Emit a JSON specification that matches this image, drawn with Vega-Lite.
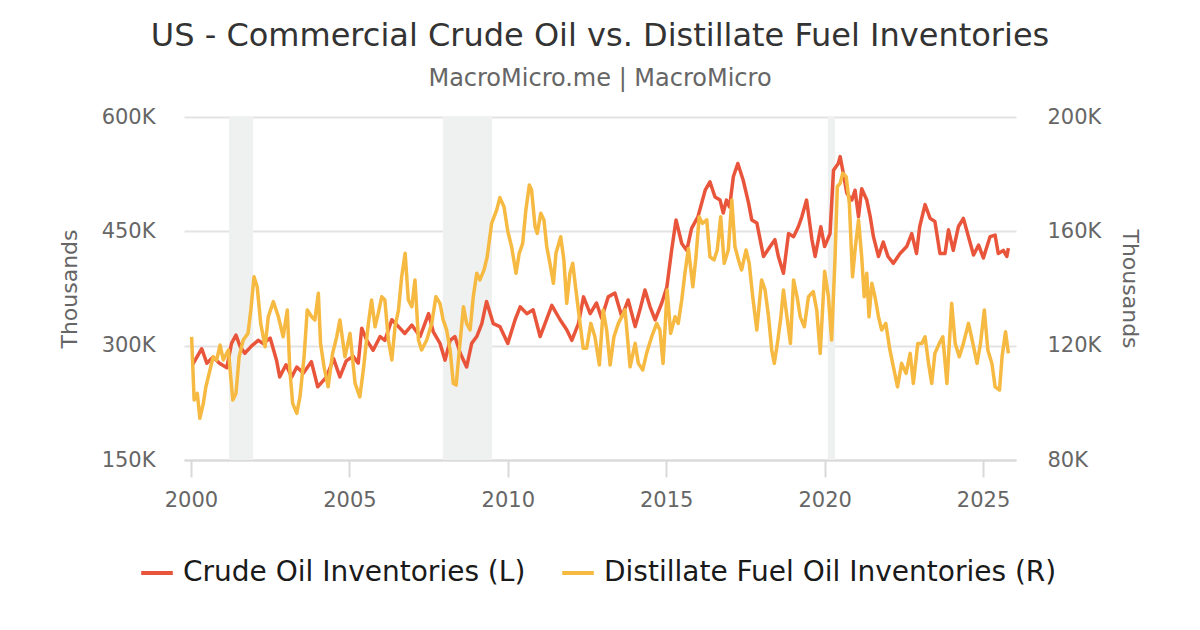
{
  "$schema": "https://vega.github.io/schema/vega-lite/v6.json",
  "width": 832,
  "height": 343,
  "autosize": {"type": "none"},
  "padding": {"left": 184, "top": 117, "right": 184, "bottom": 170},
  "background": "white",
  "config": {"font": "DejaVu Sans", "view": {"stroke": null}},
  "title": {
    "text": "US - Commercial Crude Oil vs. Distillate Fuel Inventories",
    "subtitle": "MacroMicro.me | MacroMicro",
    "anchor": "middle",
    "font": "DejaVu Sans",
    "fontSize": 32,
    "fontWeight": "normal",
    "color": "#333333",
    "subtitleFont": "DejaVu Sans",
    "subtitleFontSize": 24,
    "subtitleColor": "#666666",
    "subtitlePadding": 14,
    "offset": 14
  },
  "datasets": {
    "recessions": [
      {"start": 2001.2, "end": 2001.96},
      {"start": 2007.95, "end": 2009.5},
      {"start": 2020.1, "end": 2020.33}
    ],
    "crude": [
      {"year": 2000.05, "value": 275}, {"year": 2000.34, "value": 296}, {"year": 2000.5, "value": 277}, {"year": 2000.7, "value": 285}, {"year": 2000.9, "value": 277},
      {"year": 2001.13, "value": 271}, {"year": 2001.28, "value": 303}, {"year": 2001.42, "value": 314}, {"year": 2001.55, "value": 299}, {"year": 2001.7, "value": 290}, {"year": 2001.9, "value": 299},
      {"year": 2002.12, "value": 307}, {"year": 2002.28, "value": 303}, {"year": 2002.5, "value": 310}, {"year": 2002.7, "value": 281}, {"year": 2002.8, "value": 259},
      {"year": 2003.0, "value": 275}, {"year": 2003.18, "value": 259}, {"year": 2003.34, "value": 272}, {"year": 2003.55, "value": 264}, {"year": 2003.8, "value": 279},
      {"year": 2004.0, "value": 246}, {"year": 2004.28, "value": 259}, {"year": 2004.5, "value": 283}, {"year": 2004.7, "value": 259}, {"year": 2004.9, "value": 280},
      {"year": 2005.12, "value": 286}, {"year": 2005.28, "value": 277}, {"year": 2005.39, "value": 323}, {"year": 2005.55, "value": 307}, {"year": 2005.75, "value": 294}, {"year": 2005.97, "value": 312},
      {"year": 2006.12, "value": 307}, {"year": 2006.34, "value": 334}, {"year": 2006.55, "value": 325}, {"year": 2006.75, "value": 316}, {"year": 2006.97, "value": 327},
      {"year": 2007.23, "value": 312}, {"year": 2007.5, "value": 342}, {"year": 2007.65, "value": 318}, {"year": 2007.86, "value": 303},
      {"year": 2008.02, "value": 281}, {"year": 2008.18, "value": 307}, {"year": 2008.33, "value": 312}, {"year": 2008.5, "value": 290}, {"year": 2008.7, "value": 272}, {"year": 2008.86, "value": 303},
      {"year": 2009.02, "value": 312}, {"year": 2009.18, "value": 329}, {"year": 2009.33, "value": 358}, {"year": 2009.54, "value": 329}, {"year": 2009.75, "value": 325},
      {"year": 2010.0, "value": 303}, {"year": 2010.23, "value": 334}, {"year": 2010.39, "value": 351}, {"year": 2010.6, "value": 342}, {"year": 2010.8, "value": 347},
      {"year": 2011.02, "value": 312}, {"year": 2011.39, "value": 353}, {"year": 2011.65, "value": 334}, {"year": 2011.86, "value": 321},
      {"year": 2012.02, "value": 307}, {"year": 2012.23, "value": 329}, {"year": 2012.39, "value": 364}, {"year": 2012.6, "value": 342}, {"year": 2012.8, "value": 356}, {"year": 2012.96, "value": 336},
      {"year": 2013.17, "value": 364}, {"year": 2013.38, "value": 369}, {"year": 2013.6, "value": 338}, {"year": 2013.8, "value": 360},
      {"year": 2014.02, "value": 325}, {"year": 2014.17, "value": 347}, {"year": 2014.33, "value": 373}, {"year": 2014.49, "value": 351}, {"year": 2014.65, "value": 334}, {"year": 2014.86, "value": 356},
      {"year": 2015.02, "value": 377}, {"year": 2015.17, "value": 425}, {"year": 2015.31, "value": 465}, {"year": 2015.49, "value": 434}, {"year": 2015.65, "value": 425}, {"year": 2015.8, "value": 454},
      {"year": 2016.0, "value": 469}, {"year": 2016.23, "value": 504}, {"year": 2016.38, "value": 515}, {"year": 2016.54, "value": 495}, {"year": 2016.7, "value": 491}, {"year": 2016.8, "value": 474}, {"year": 2016.9, "value": 491},
      {"year": 2017.0, "value": 482}, {"year": 2017.12, "value": 522}, {"year": 2017.26, "value": 539}, {"year": 2017.43, "value": 517}, {"year": 2017.6, "value": 487}, {"year": 2017.7, "value": 465}, {"year": 2017.86, "value": 461},
      {"year": 2018.07, "value": 417}, {"year": 2018.28, "value": 430}, {"year": 2018.43, "value": 439}, {"year": 2018.54, "value": 417}, {"year": 2018.7, "value": 395}, {"year": 2018.86, "value": 447},
      {"year": 2019.02, "value": 443}, {"year": 2019.17, "value": 456}, {"year": 2019.28, "value": 469}, {"year": 2019.43, "value": 491}, {"year": 2019.6, "value": 439}, {"year": 2019.7, "value": 417}, {"year": 2019.88, "value": 456},
      {"year": 2020.0, "value": 430}, {"year": 2020.17, "value": 447}, {"year": 2020.28, "value": 530}, {"year": 2020.43, "value": 539}, {"year": 2020.49, "value": 548}, {"year": 2020.59, "value": 526}, {"year": 2020.7, "value": 500}, {"year": 2020.86, "value": 491}, {"year": 2020.96, "value": 504},
      {"year": 2021.07, "value": 469}, {"year": 2021.17, "value": 506}, {"year": 2021.33, "value": 491}, {"year": 2021.44, "value": 469}, {"year": 2021.54, "value": 443}, {"year": 2021.7, "value": 417}, {"year": 2021.85, "value": 436},
      {"year": 2022.0, "value": 417}, {"year": 2022.17, "value": 408}, {"year": 2022.38, "value": 421}, {"year": 2022.59, "value": 430}, {"year": 2022.75, "value": 447}, {"year": 2022.9, "value": 421},
      {"year": 2023.0, "value": 456}, {"year": 2023.17, "value": 485}, {"year": 2023.33, "value": 467}, {"year": 2023.48, "value": 463}, {"year": 2023.64, "value": 421}, {"year": 2023.8, "value": 421}, {"year": 2023.91, "value": 452},
      {"year": 2024.06, "value": 425}, {"year": 2024.22, "value": 456}, {"year": 2024.38, "value": 467}, {"year": 2024.54, "value": 443}, {"year": 2024.7, "value": 419}, {"year": 2024.86, "value": 432},
      {"year": 2025.01, "value": 415}, {"year": 2025.22, "value": 443}, {"year": 2025.38, "value": 445}, {"year": 2025.48, "value": 421}, {"year": 2025.64, "value": 425}, {"year": 2025.75, "value": 417}, {"year": 2025.8, "value": 428}
    ],
    "distillate": [
      {"year": 2000.02, "value": 123.1}, {"year": 2000.1, "value": 101}, {"year": 2000.2, "value": 103.3}, {"year": 2000.28, "value": 94.6}, {"year": 2000.39, "value": 99.8}, {"year": 2000.47, "value": 105.6}, {"year": 2000.6, "value": 111.5}, {"year": 2000.7, "value": 116.1}, {"year": 2000.81, "value": 115}, {"year": 2000.92, "value": 120.2},
      {"year": 2001.02, "value": 115}, {"year": 2001.18, "value": 118.5}, {"year": 2001.32, "value": 101}, {"year": 2001.42, "value": 103.3}, {"year": 2001.52, "value": 116.1}, {"year": 2001.65, "value": 122}, {"year": 2001.8, "value": 124.3}, {"year": 2001.89, "value": 132.5}, {"year": 2001.99, "value": 144.1},
      {"year": 2002.09, "value": 140.6}, {"year": 2002.2, "value": 127.8}, {"year": 2002.34, "value": 119.6}, {"year": 2002.44, "value": 130.1}, {"year": 2002.6, "value": 135.4}, {"year": 2002.76, "value": 130.1}, {"year": 2002.91, "value": 123.1},
      {"year": 2003.04, "value": 132.5}, {"year": 2003.12, "value": 111.5}, {"year": 2003.21, "value": 99.8}, {"year": 2003.34, "value": 96.3}, {"year": 2003.44, "value": 102.1}, {"year": 2003.57, "value": 116.1}, {"year": 2003.67, "value": 132.5}, {"year": 2003.81, "value": 130.1}, {"year": 2003.91, "value": 129},
      {"year": 2004.02, "value": 138.3}, {"year": 2004.09, "value": 120.8}, {"year": 2004.2, "value": 112.6}, {"year": 2004.33, "value": 105.6}, {"year": 2004.47, "value": 117.3}, {"year": 2004.6, "value": 123.1}, {"year": 2004.7, "value": 129}, {"year": 2004.86, "value": 116.1},
      {"year": 2005.02, "value": 124.3}, {"year": 2005.18, "value": 106.8}, {"year": 2005.33, "value": 102.1}, {"year": 2005.44, "value": 111.5}, {"year": 2005.6, "value": 127.8}, {"year": 2005.7, "value": 136}, {"year": 2005.81, "value": 126.6}, {"year": 2005.91, "value": 131.3},
      {"year": 2006.02, "value": 137.1}, {"year": 2006.12, "value": 136}, {"year": 2006.23, "value": 122}, {"year": 2006.34, "value": 115}, {"year": 2006.44, "value": 126.6}, {"year": 2006.55, "value": 132.5}, {"year": 2006.65, "value": 144.1}, {"year": 2006.76, "value": 152.3}, {"year": 2006.86, "value": 136}, {"year": 2006.97, "value": 133.6},
      {"year": 2007.07, "value": 143}, {"year": 2007.18, "value": 122}, {"year": 2007.28, "value": 118.5}, {"year": 2007.44, "value": 122}, {"year": 2007.6, "value": 127.8}, {"year": 2007.73, "value": 137.1}, {"year": 2007.86, "value": 134.8}, {"year": 2007.96, "value": 129},
      {"year": 2008.07, "value": 125.5}, {"year": 2008.18, "value": 118.5}, {"year": 2008.28, "value": 106.8}, {"year": 2008.37, "value": 106.2}, {"year": 2008.47, "value": 118.5}, {"year": 2008.6, "value": 133.6}, {"year": 2008.7, "value": 127.8}, {"year": 2008.81, "value": 125.5}, {"year": 2008.91, "value": 137.1},
      {"year": 2009.02, "value": 145.3}, {"year": 2009.12, "value": 143}, {"year": 2009.25, "value": 146.5}, {"year": 2009.35, "value": 151.1}, {"year": 2009.49, "value": 162.8}, {"year": 2009.65, "value": 167.5}, {"year": 2009.75, "value": 171.8}, {"year": 2009.88, "value": 168.6},
      {"year": 2010.0, "value": 160}, {"year": 2010.12, "value": 154.6}, {"year": 2010.26, "value": 145.3}, {"year": 2010.36, "value": 152.3}, {"year": 2010.47, "value": 155.8}, {"year": 2010.57, "value": 167.5}, {"year": 2010.68, "value": 176.2}, {"year": 2010.75, "value": 174.5}, {"year": 2010.86, "value": 161.6}, {"year": 2010.93, "value": 159.3},
      {"year": 2011.04, "value": 166.3}, {"year": 2011.14, "value": 164}, {"year": 2011.23, "value": 154.6}, {"year": 2011.33, "value": 148.8}, {"year": 2011.44, "value": 141.8}, {"year": 2011.52, "value": 152.3}, {"year": 2011.67, "value": 158.1}, {"year": 2011.77, "value": 150}, {"year": 2011.86, "value": 134.8}, {"year": 2011.96, "value": 145.3},
      {"year": 2012.05, "value": 148.8}, {"year": 2012.15, "value": 139.5}, {"year": 2012.28, "value": 127.8}, {"year": 2012.38, "value": 119.1}, {"year": 2012.49, "value": 119.1}, {"year": 2012.62, "value": 127.8}, {"year": 2012.75, "value": 123.1}, {"year": 2012.89, "value": 113.2},
      {"year": 2013.01, "value": 132.5}, {"year": 2013.12, "value": 125.5}, {"year": 2013.23, "value": 113.2}, {"year": 2013.35, "value": 123.1}, {"year": 2013.49, "value": 127.8}, {"year": 2013.7, "value": 132.5}, {"year": 2013.86, "value": 112.6},
      {"year": 2014.02, "value": 120.8}, {"year": 2014.12, "value": 113.8}, {"year": 2014.26, "value": 111.5}, {"year": 2014.38, "value": 117.3}, {"year": 2014.54, "value": 123.1}, {"year": 2014.7, "value": 127.8}, {"year": 2014.8, "value": 125.5}, {"year": 2014.9, "value": 113.8},
      {"year": 2015.03, "value": 139.5}, {"year": 2015.14, "value": 124.3}, {"year": 2015.28, "value": 130.1}, {"year": 2015.38, "value": 127.8}, {"year": 2015.49, "value": 136}, {"year": 2015.59, "value": 145.3}, {"year": 2015.7, "value": 154}, {"year": 2015.84, "value": 140.6}, {"year": 2015.94, "value": 151.1},
      {"year": 2016.04, "value": 165.1}, {"year": 2016.14, "value": 162.8}, {"year": 2016.28, "value": 164}, {"year": 2016.38, "value": 151.1}, {"year": 2016.51, "value": 150}, {"year": 2016.61, "value": 153.5}, {"year": 2016.72, "value": 165.1}, {"year": 2016.83, "value": 148.8}, {"year": 2016.96, "value": 153.5},
      {"year": 2017.07, "value": 171}, {"year": 2017.17, "value": 154.6}, {"year": 2017.28, "value": 150}, {"year": 2017.38, "value": 146.5}, {"year": 2017.52, "value": 153.5}, {"year": 2017.62, "value": 148.8}, {"year": 2017.73, "value": 137.1}, {"year": 2017.86, "value": 125.5},
      {"year": 2018.01, "value": 143}, {"year": 2018.12, "value": 139.5}, {"year": 2018.23, "value": 130.1}, {"year": 2018.33, "value": 118.5}, {"year": 2018.41, "value": 113.8}, {"year": 2018.51, "value": 120.8}, {"year": 2018.62, "value": 130.1}, {"year": 2018.7, "value": 139.5}, {"year": 2018.81, "value": 130.1}, {"year": 2018.92, "value": 120.8},
      {"year": 2019.02, "value": 143}, {"year": 2019.13, "value": 137.1}, {"year": 2019.23, "value": 130.1}, {"year": 2019.36, "value": 126.6}, {"year": 2019.49, "value": 137.1}, {"year": 2019.64, "value": 138.9}, {"year": 2019.75, "value": 132.5}, {"year": 2019.86, "value": 117.3},
      {"year": 2020.0, "value": 146}, {"year": 2020.12, "value": 137.1}, {"year": 2020.22, "value": 122}, {"year": 2020.33, "value": 151.1}, {"year": 2020.4, "value": 175.6}, {"year": 2020.49, "value": 176.8}, {"year": 2020.57, "value": 180.3}, {"year": 2020.68, "value": 179.1}, {"year": 2020.78, "value": 169.8}, {"year": 2020.88, "value": 144.1}, {"year": 2020.96, "value": 153.5},
      {"year": 2021.07, "value": 164}, {"year": 2021.17, "value": 151.1}, {"year": 2021.25, "value": 137.1}, {"year": 2021.33, "value": 145.3}, {"year": 2021.4, "value": 130.1}, {"year": 2021.49, "value": 141.8}, {"year": 2021.59, "value": 137.1}, {"year": 2021.7, "value": 130.1}, {"year": 2021.8, "value": 125.5}, {"year": 2021.93, "value": 127.8},
      {"year": 2022.06, "value": 118.5}, {"year": 2022.17, "value": 112.6}, {"year": 2022.3, "value": 105.6}, {"year": 2022.43, "value": 113.8}, {"year": 2022.57, "value": 110.3}, {"year": 2022.7, "value": 117.3}, {"year": 2022.8, "value": 106.8}, {"year": 2022.94, "value": 120.8},
      {"year": 2023.07, "value": 120.8}, {"year": 2023.17, "value": 123.1}, {"year": 2023.28, "value": 113.8}, {"year": 2023.38, "value": 106.8}, {"year": 2023.48, "value": 117.3}, {"year": 2023.62, "value": 120.8}, {"year": 2023.73, "value": 123.1}, {"year": 2023.86, "value": 106.8},
      {"year": 2024.01, "value": 134.8}, {"year": 2024.12, "value": 120.8}, {"year": 2024.25, "value": 116.1}, {"year": 2024.38, "value": 120.8}, {"year": 2024.54, "value": 127.8}, {"year": 2024.68, "value": 120.8}, {"year": 2024.81, "value": 113.8}, {"year": 2024.92, "value": 120.8},
      {"year": 2025.04, "value": 132.5}, {"year": 2025.15, "value": 118.5}, {"year": 2025.28, "value": 113.8}, {"year": 2025.38, "value": 105.6}, {"year": 2025.52, "value": 104.5}, {"year": 2025.6, "value": 116.1}, {"year": 2025.71, "value": 124.9}, {"year": 2025.8, "value": 117.3}
    ]
  },
  "layer": [
    {
      "data": {"name": "recessions"},
      "mark": {"type": "rect", "color": "#eff1f1"},
      "encoding": {
        "x": {
          "field": "start", "type": "quantitative",
          "scale": {"domain": [1999.78, 2026.04], "nice": false, "zero": false},
          "axis": {
            "values": [2000, 2005, 2010, 2015, 2020, 2025],
            "format": "d",
            "grid": false,
            "title": null,
            "domainColor": "#d9d9d9", "domainWidth": 2,
            "tickColor": "#d9d9d9", "tickWidth": 2, "tickSize": 17,
            "labelFontSize": 21, "labelColor": "#666666", "labelPadding": 12
          }
        },
        "x2": {"field": "end"}
      }
    },
    {
      "data": {"name": "crude"},
      "mark": {"type": "line", "strokeWidth": 3.5, "strokeJoin": "round"},
      "encoding": {
        "x": {"field": "year", "type": "quantitative"},
        "y": {
          "field": "value", "type": "quantitative",
          "scale": {"domain": [150, 600], "nice": false, "zero": false},
          "axis": {
            "orient": "left",
            "values": [150, 300, 450, 600],
            "labelExpr": "datum.value + 'K'",
            "grid": true, "gridColor": "#e3e3e3", "gridWidth": 2,
            "domain": false, "ticks": false,
            "labelPadding": 29, "labelFontSize": 21, "labelColor": "#666666",
            "title": "Thousands", "titleFontSize": 22, "titleFontWeight": "normal", "titleColor": "#666666", "titlePadding": 20
          }
        },
        "color": {
          "datum": "Crude Oil Inventories (L)",
          "scale": {"domain": ["Crude Oil Inventories (L)", "Distillate Fuel Oil Inventories (R)"], "range": ["#e9553b", "#f6b941"]},
          "legend": {
            "orient": "none", "legendX": -45, "legendY": 438,
            "direction": "horizontal", "title": null,
            "symbolType": "stroke", "symbolStrokeWidth": 4, "symbolSize": 1000,
            "labelFontSize": 28, "labelColor": "#1a1a1a", "labelLimit": 700,
            "columnPadding": 28, "labelOffset": 8
          }
        }
      }
    },
    {
      "data": {"name": "distillate"},
      "mark": {"type": "line", "strokeWidth": 3.5, "strokeJoin": "round"},
      "encoding": {
        "x": {"field": "year", "type": "quantitative"},
        "y": {
          "field": "value", "type": "quantitative",
          "scale": {"domain": [80, 200], "nice": false, "zero": false},
          "axis": {
            "orient": "right",
            "values": [80, 120, 160, 200],
            "labelExpr": "datum.value + 'K'",
            "grid": false,
            "domain": false, "ticks": false,
            "labelPadding": 31, "labelFontSize": 21, "labelColor": "#666666",
            "title": "Thousands", "titleFontSize": 22, "titleFontWeight": "normal", "titleColor": "#666666", "titlePadding": 17
          }
        },
        "color": {"datum": "Distillate Fuel Oil Inventories (R)"}
      }
    }
  ],
  "resolve": {"scale": {"y": "independent"}}
}
